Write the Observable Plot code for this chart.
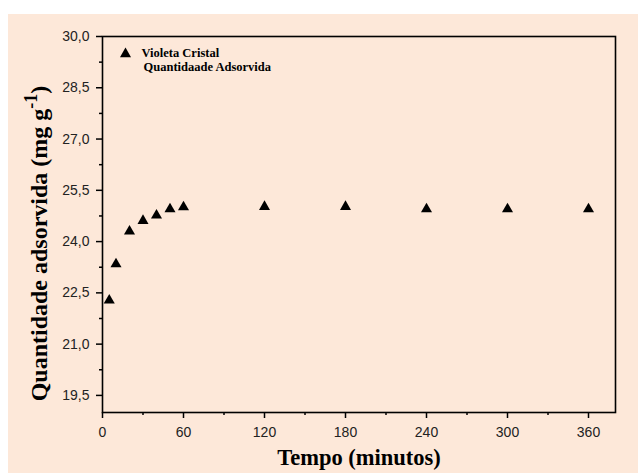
<!DOCTYPE html>
<html>
<head>
<meta charset="utf-8">
<script src="https://cdn.jsdelivr.net/npm/d3@7"></script>
<script src="https://cdn.jsdelivr.net/npm/@observablehq/plot@0.6"></script>
<style>
  html, body { margin: 0; padding: 0; background: #ffffff; }
  #wrap { position: relative; width: 638px; height: 473px; overflow: hidden; }
  #bg { position: absolute; left: 8px; top: 14px; width: 630px; height: 459px; background: #fde8d9; }
  #chart { position: absolute; left: 0; top: 0; }
</style>
</head>
<body>
<div id="wrap"><div id="bg"></div><div id="chart"></div></div>
<script>
// Data
const tempo = [5, 10, 20, 30, 40, 50, 60, 120, 180, 240, 300, 360];
const quantidade = [22.28, 23.34, 24.30, 24.61, 24.77, 24.95, 25.01, 25.02, 25.02, 24.95, 24.95, 24.95];
const xTicks = [0, 60, 120, 180, 240, 300, 360];
const xMinor = [30, 90, 150, 210, 270, 330];
const yTicks = [19.5, 21.0, 22.5, 24.0, 25.5, 27.0, 28.5, 30.0];
const yMinor = [20.25, 21.75, 23.25, 24.75, 26.25, 27.75, 29.25];
const legendLines = ["Violeta Cristal", "Quantidaade Adsorvida"];
const xTitle = "Tempo (minutos)";
const yTitle = "Quantidade adsorvida (mg g";

const data = tempo.map((t, i) => ({t, q: quantidade[i]}));
const fmtY = d => d3.format(".1f")(d).replace(".", ",");
const tickFont = "Liberation Sans, Arial, sans-serif";
const serif = "Liberation Serif, Times New Roman, serif";

const chart = Plot.plot({
  width: 638,
  height: 473,
  marginLeft: 102,
  marginRight: 23,
  marginTop: 36,
  marginBottom: 61,
  style: {background: "transparent", fontFamily: tickFont, fontSize: "14px", color: "#000", overflow: "visible"},
  x: {domain: [0, 380], label: null},
  y: {domain: [19, 30], label: null},
  marks: [
    Plot.axisX({ticks: xTicks, tickSize: 6, tickPadding: 9, tickFormat: d => String(d), fontSize: 14, fill: "#222", strokeWidth: 1.5, label: null}),
    Plot.axisX({ticks: xMinor, tickSize: 3, tickFormat: () => "", strokeWidth: 1.5, label: null}),
    Plot.axisY({ticks: yTicks, tickSize: 6, tickPadding: 7, tickFormat: fmtY, fontSize: 14, fill: "#222", strokeWidth: 1.5, label: null}),
    Plot.axisY({ticks: yMinor, tickSize: 3, tickFormat: () => "", strokeWidth: 1.5, label: null}),
    Plot.frame({stroke: "#000", strokeWidth: 1.6}),
    Plot.dot(data, {x: "t", y: "q", symbol: "triangle", r: 4.1, fill: "#000", stroke: "none"}),
    // legend
    Plot.dot([legendLines[0]], {frameAnchor: "top-left", dx: 23, dy: 17.5, symbol: "triangle", r: 4.1, fill: "#000", stroke: "none"}),
    Plot.text([legendLines[0]], {frameAnchor: "top-left", text: d => d, dx: 39, dy: 16, textAnchor: "start", lineAnchor: "middle", fontFamily: serif, fontWeight: "bold", fontSize: 12.5, fill: "#000"}),
    Plot.text([legendLines[1]], {frameAnchor: "top-left", text: d => d, dx: 41, dy: 30, textAnchor: "start", lineAnchor: "middle", fontFamily: serif, fontWeight: "bold", fontSize: 12.5, fill: "#000"}),
    // axis titles
    Plot.text([xTitle], {frameAnchor: "bottom", text: d => d, dy: 52, textAnchor: "middle", fontFamily: serif, fontWeight: "bold", fontSize: 22.5, fill: "#000"}),
    Plot.text([yTitle], {frameAnchor: "left", text: d => d, dx: -63, dy: 19, rotate: -90, textAnchor: "middle", lineAnchor: "middle", fontFamily: serif, fontWeight: "bold", fontSize: 24, fill: "#000"})
  ]
});
document.getElementById("chart").appendChild(chart);

// superscript on the y title
d3.select(chart).selectAll("text").filter(function() { return this.textContent === yTitle; }).each(function() {
  const t = d3.select(this);
  t.text(null);
  t.append("tspan").text(yTitle);
  t.append("tspan").attr("baseline-shift", "super").attr("font-size", "18").text("-1");
  t.append("tspan").attr("baseline-shift", "0").text(")");
});
</script>
</body>
</html>
